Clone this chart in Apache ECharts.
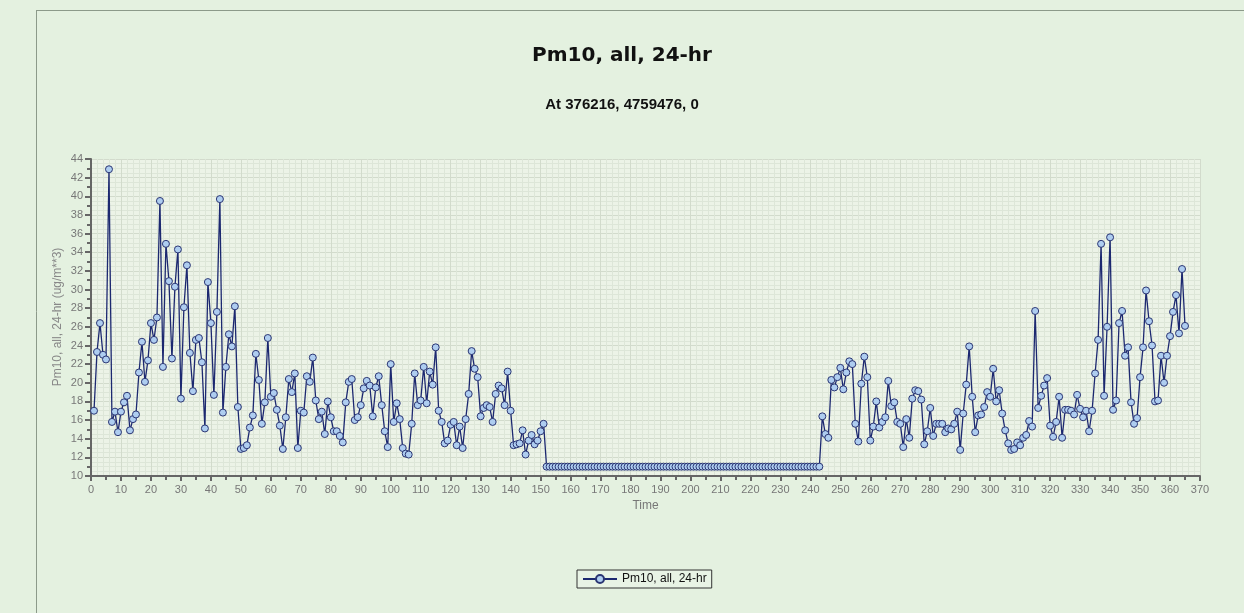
<!DOCTYPE html>
<html>
<head>
<meta charset="utf-8">
<script src="https://cdn.jsdelivr.net/npm/echarts@6/dist/echarts.min.js"></script>
<style>
html, body { margin: 0; padding: 0; background: #e4f1e0; }
#main { width: 1244px; height: 613px; }
</style>
</head>
<body>
<div id="main"></div>
<script>
// first day of the series on the Time axis
var firstDay = 1;

// days 1 - 151
var pm10Early = [
    17.0, 23.3, 26.4, 23.0, 22.5, 42.9, 15.8, 16.9, 14.7, 16.9,
    17.9, 18.6, 14.9, 16.1, 16.6, 21.1, 24.4, 20.1, 22.4, 26.4,
    24.6, 27.0, 39.5, 21.7, 34.9, 30.9, 22.6, 30.3, 34.3, 18.3,
    28.1, 32.6, 23.2, 19.1, 24.6, 24.8, 22.2, 15.1, 30.8, 26.4,
    18.7, 27.6, 39.7, 16.8, 21.7, 25.2, 23.9, 28.2, 17.4, 12.9,
    13.0, 13.3, 15.2, 16.5, 23.1, 20.3, 15.6, 17.9, 24.8, 18.5,
    18.9, 17.1, 15.4, 12.9, 16.3, 20.4, 19.0, 21.0, 13.0, 17.0,
    16.8, 20.7, 20.1, 22.7, 18.1, 16.1, 16.9, 14.5, 18.0, 16.3,
    14.8, 14.8, 14.3, 13.6, 17.9, 20.1, 20.4, 16.0, 16.3, 17.6,
    19.4, 20.2, 19.7, 16.4, 19.5, 20.7, 17.6, 14.8, 13.1, 22.0,
    15.8, 17.8, 16.1, 13.0, 12.4, 12.3, 15.6, 21.0, 17.6, 18.1,
    21.7, 17.8, 21.2, 19.8, 23.8, 17.0, 15.8, 13.5, 13.8, 15.5,
    15.8, 13.3, 15.3, 13.0, 16.1, 18.8, 23.4, 21.5, 20.6, 16.4,
    17.3, 17.6, 17.4, 15.8, 18.8, 19.7, 19.4, 17.6, 21.2, 17.0,
    13.3, 13.4, 13.5, 14.9, 12.3, 13.8, 14.4, 13.4, 13.8, 14.8,
    15.6
];

// days 152 - 243 (constant floor value)
var pm10Flat = [
    11, 11, 11, 11, 11, 11, 11, 11, 11, 11, 11, 11, 11, 11, 11, 11, 11, 11, 11, 11, 11, 11, 11,
    11, 11, 11, 11, 11, 11, 11, 11, 11, 11, 11, 11, 11, 11, 11, 11, 11, 11, 11, 11, 11, 11, 11,
    11, 11, 11, 11, 11, 11, 11, 11, 11, 11, 11, 11, 11, 11, 11, 11, 11, 11, 11, 11, 11, 11, 11,
    11, 11, 11, 11, 11, 11, 11, 11, 11, 11, 11, 11, 11, 11, 11, 11, 11, 11, 11, 11, 11, 11, 11
];

// days 244 - 365
var pm10Late = [
    16.4, 14.5, 14.1, 20.3, 19.5, 20.6, 21.6, 19.3, 21.1, 22.3,
    22.0, 15.6, 13.7, 19.9, 22.8, 20.6, 13.8, 15.3, 18.0, 15.2,
    15.8, 16.3, 20.2, 17.5, 17.9, 15.8, 15.6, 13.1, 16.1, 14.1,
    18.3, 19.2, 19.1, 18.2, 13.4, 14.8, 17.3, 14.3, 15.6, 15.6,
    15.6, 14.7, 15.1, 15.0, 15.6, 16.9, 12.8, 16.7, 19.8, 23.9,
    18.5, 14.7, 16.5, 16.6, 17.4, 19.0, 18.5, 21.5, 18.0, 19.2,
    16.7, 14.9, 13.5, 12.8, 12.9, 13.6, 13.3, 14.1, 14.4, 15.9,
    15.3, 27.7, 17.3, 18.6, 19.7, 20.5, 15.4, 14.2, 15.8, 18.5,
    14.1, 17.1, 17.1, 17.0, 16.6, 18.7, 17.2, 16.3, 17.0, 14.8,
    17.0, 21.0, 24.6, 34.9, 18.6, 26.0, 35.6, 17.1, 18.1, 26.4,
    27.7, 22.9, 23.8, 17.9, 15.6, 16.2, 20.6, 23.8, 29.9, 26.6,
    24.0, 18.0, 18.1, 22.9, 20.0, 22.9, 25.0, 27.6, 29.4, 25.3,
    32.2, 26.1
];

var seriesName = 'Pm10, all, 24-hr';
var yName = 'Pm10, all, 24-hr (ug/m**3)';

var pm10 = pm10Early.concat(pm10Flat, pm10Late);
var points = [];
for (var i = 0; i < pm10.length; i++) {
    points.push([firstDay + i, pm10[i]]);
}

var myChart = echarts.init(document.getElementById('main'));
var font = 'Liberation Sans, Arial, sans-serif';

// fine background mesh, drawn by hidden axes
var meshLine = { show: true, lineStyle: { color: '#dde6d8', width: 1 } };

var option = {
    backgroundColor: '#e4f1e0',
    animation: false,
    textStyle: { fontFamily: font },
    title: [
        {
            text: 'Pm10, all, 24-hr',
            left: 'center',
            top: 41,
            textStyle: { fontSize: 20, fontWeight: 'bold', color: '#111', fontFamily: 'DejaVu Sans, sans-serif' }
        },
        {
            text: 'At 376216, 4759476, 0',
            left: 'center',
            top: 92,
            textStyle: { fontSize: 15, fontWeight: 'bold', color: '#111', fontFamily: font }
        }
    ],
    graphic: [
        { type: 'line', shape: { x1: 36, y1: 10.5, x2: 1244, y2: 10.5 }, style: { stroke: '#8c9a8a', lineWidth: 1 } },
        { type: 'line', shape: { x1: 36.5, y1: 10, x2: 36.5, y2: 613 }, style: { stroke: '#8c9a8a', lineWidth: 1 } },
        // y axis title, placed by hand like the original
        {
            type: 'text',
            x: 58,
            y: 317,
            rotation: Math.PI / 2,
            style: {
                text: yName,
                fill: '#888',
                font: '12px Liberation Sans, Arial, sans-serif',
                align: 'center',
                verticalAlign: 'middle'
            }
        }
    ],
    legend: {
        data: [seriesName],
        bottom: 25,
        left: 577,
        itemWidth: 34,
        itemHeight: 10,
        itemGap: 6,
        padding: [3, 5, 3, 5],
        borderColor: '#333',
        borderWidth: 1,
        borderRadius: 0,
        backgroundColor: '#e8f3e5',
        textStyle: { fontSize: 12, color: '#111', fontFamily: font }
    },
    grid: {
        left: 91,
        right: 44,
        top: 159,
        bottom: 137,
        show: true,
        backgroundColor: '#ecf3e7',
        borderWidth: 0
    },
    xAxis: [{
        type: 'value',
        min: 0,
        max: 370,
        interval: 2,
        show: true,
        axisLine: { show: false },
        axisTick: { show: false },
        axisLabel: { show: false },
        splitLine: meshLine
    }, {
        type: 'value',
        min: 0,
        max: 370,
        interval: 10,
        position: 'bottom',
        name: 'Time',
        nameLocation: 'middle',
        nameGap: 22,
        nameTextStyle: { color: '#777', fontSize: 12 },
        axisLine: { lineStyle: { color: '#666', width: 2 } },
        axisTick: { show: true, length: 5, lineStyle: { color: '#666', width: 2 } },
        minorTick: { show: true, splitNumber: 2, length: 4, lineStyle: { color: '#666', width: 2 } },
        axisLabel: { color: '#777', fontSize: 11, margin: 8 },
        splitLine: { show: true, lineStyle: { color: '#d2dbcc', width: 1 } }
    }],
    yAxis: [{
        type: 'value',
        min: 10,
        max: 44,
        interval: 0.5,
        axisLine: { show: false },
        axisTick: { show: false },
        axisLabel: { show: false },
        splitLine: meshLine
    }, {
        type: 'value',
        min: 10,
        max: 44,
        interval: 2,
        position: 'left',
        axisLine: { show: true, lineStyle: { color: '#666', width: 2 } },
        axisTick: { show: true, length: 6, lineStyle: { color: '#666', width: 2 } },
        minorTick: { show: true, splitNumber: 2, length: 4, lineStyle: { color: '#666', width: 2 } },
        axisLabel: { color: '#777', fontSize: 11, margin: 8 },
        splitLine: { show: true, lineStyle: { color: '#d2dbcc', width: 1 } }
    }],
    series: [{
        name: seriesName,
        type: 'line',
        xAxisIndex: 1,
        yAxisIndex: 1,
        data: points,
        symbol: 'circle',
        symbolSize: 7,
        showAllSymbol: true,
        lineStyle: { color: '#1c2870', width: 1.3 },
        itemStyle: { color: '#aecdf0', borderColor: '#2a3573', borderWidth: 1 }
    }]
};

myChart.setOption(option);
</script>
</body>
</html>
